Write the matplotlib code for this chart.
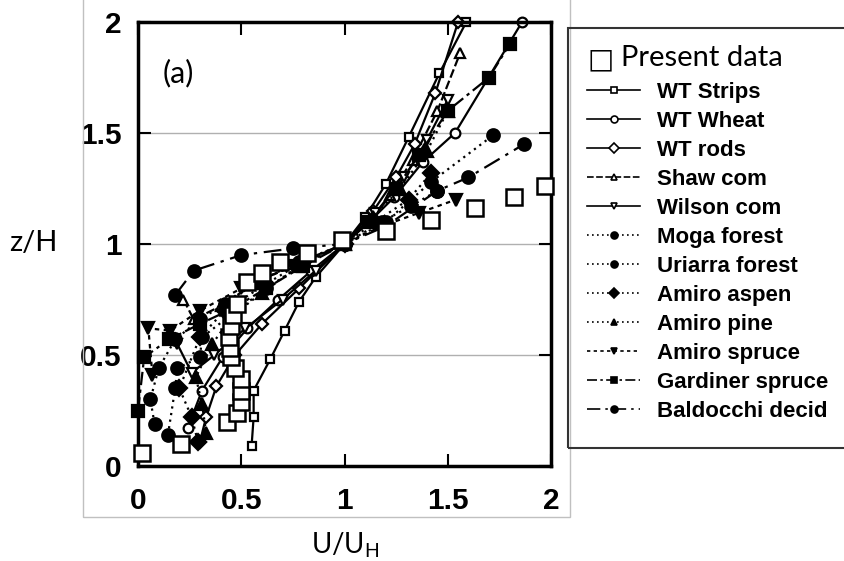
import matplotlib
matplotlib.use("Agg")
import matplotlib.pyplot as plt
from matplotlib.patches import Rectangle
from matplotlib.lines import Line2D

# Present data (open squares, no line)
present_u = [0.02, 0.21, 0.43, 0.48, 0.50, 0.50, 0.50, 0.47, 0.45, 0.445, 0.44, 0.45,
             0.46, 0.48, 0.53, 0.60, 0.69, 0.82, 0.99, 1.20, 1.42, 1.63, 1.82, 1.97]
present_z = [0.06, 0.10, 0.20, 0.24, 0.29, 0.34, 0.39, 0.44, 0.49, 0.53, 0.58, 0.63,
             0.68, 0.73, 0.83, 0.87, 0.92, 0.96, 1.02, 1.06, 1.11, 1.16, 1.21, 1.26]

# literature profiles
strips_u = [0.55, 0.56, 0.56, 0.64, 0.71, 0.78, 0.86, 1.00, 1.10, 1.20, 1.31, 1.46, 1.59]
strips_z = [0.09, 0.22, 0.34, 0.48, 0.61, 0.74, 0.85, 1.00, 1.12, 1.27, 1.48, 1.77, 2.00]
wheat_u = [0.24, 0.31, 0.41, 0.53, 0.68, 0.84, 1.00, 1.12, 1.24, 1.38, 1.535, 1.86]
wheat_z = [0.17, 0.34, 0.49, 0.62, 0.75, 0.88, 1.00, 1.10, 1.21, 1.37, 1.50, 2.00]
rods_u = [0.30, 0.33, 0.38, 0.47, 0.60, 0.78, 1.00, 1.14, 1.25, 1.34, 1.44, 1.55]
rods_z = [0.11, 0.22, 0.36, 0.50, 0.64, 0.80, 1.00, 1.15, 1.30, 1.45, 1.68, 2.00]
shaw_u = [0.22, 0.27, 0.40, 0.56, 0.76, 1.00, 1.12, 1.22, 1.33, 1.45, 1.56]
shaw_z = [0.75, 0.66, 0.72, 0.82, 0.91, 1.00, 1.10, 1.22, 1.38, 1.60, 1.86]
wilson_u = [0.19, 0.26, 0.37, 0.52, 0.70, 0.86, 1.00, 1.15, 1.29, 1.40, 1.50]
wilson_z = [0.55, 0.42, 0.50, 0.62, 0.75, 0.88, 1.00, 1.14, 1.30, 1.47, 1.65]
moga_u = [0.08, 0.06, 0.10, 0.18, 0.30, 0.42, 0.58, 0.78, 1.00, 1.20, 1.42, 1.72]
moga_z = [0.19, 0.30, 0.44, 0.57, 0.66, 0.73, 0.83, 0.92, 1.00, 1.10, 1.28, 1.49]
uriarra_u = [0.145, 0.18, 0.19, 0.30, 0.31, 0.45, 0.62, 0.80, 1.00, 1.18, 1.32, 1.45]
uriarra_z = [0.14, 0.35, 0.44, 0.49, 0.58, 0.68, 0.80, 0.91, 1.00, 1.10, 1.17, 1.24]
aspen_u = [0.29, 0.26, 0.20, 0.30, 0.42, 0.47, 0.62, 0.80, 1.00, 1.15, 1.31, 1.42]
aspen_z = [0.11, 0.22, 0.35, 0.58, 0.70, 0.73, 0.82, 0.92, 1.00, 1.10, 1.20, 1.32]
pine_u = [0.33, 0.31, 0.28, 0.36, 0.46, 0.60, 0.78, 1.00, 1.14, 1.27, 1.40, 1.50]
pine_z = [0.15, 0.28, 0.40, 0.55, 0.68, 0.78, 0.90, 1.00, 1.12, 1.25, 1.42, 1.60]
spruce_u = [0.07, 0.05, 0.155, 0.30, 0.50, 0.75, 1.00, 1.18, 1.36, 1.54]
spruce_z = [0.41, 0.62, 0.61, 0.70, 0.80, 0.90, 1.00, 1.08, 1.14, 1.20]
gardiner_u = [0.00, 0.03, 0.15, 0.30, 0.46, 0.62, 0.80, 1.00, 1.12, 1.25, 1.36, 1.50, 1.70, 1.80]
gardiner_z = [0.25, 0.49, 0.57, 0.64, 0.71, 0.80, 0.90, 1.00, 1.10, 1.25, 1.40, 1.60, 1.75, 1.90]
baldocchi_u = [0.18, 0.27, 0.50, 0.75, 1.00, 1.20, 1.45, 1.60, 1.87]
baldocchi_z = [0.77, 0.88, 0.95, 0.98, 1.00, 1.08, 1.24, 1.30, 1.45]

labels = ['WT Strips', 'WT Wheat', 'WT rods', 'Shaw com', 'Wilson com', 'Moga forest',
          'Uriarra forest', 'Amiro aspen', 'Amiro pine', 'Amiro spruce',
          'Gardiner spruce', 'Baldocchi decid']

DOT = (0, (1, 2))
DASHDOT = (0, (6, 2, 1.5, 2))
LONGDASH = (0, (8, 3, 1.5, 3))

# (u, z, marker, filled, linestyle, markersize)
profiles = [
    (strips_u, strips_z, 's', False, '-', 6),
    (wheat_u, wheat_z, 'o', False, '-', 7),
    (rods_u, rods_z, 'D', False, '-', 6),
    (shaw_u, shaw_z, '^', False, (0, (4, 1.5)), 7),
    (wilson_u, wilson_z, 'v', False, '-', 7),
    (moga_u, moga_z, 'o', True, DOT, 9),
    (uriarra_u, uriarra_z, 'o', True, DOT, 9),
    (aspen_u, aspen_z, 'D', True, DOT, 8),
    (pine_u, pine_z, '^', True, DOT, 9),
    (spruce_u, spruce_z, 'v', True, (0, (2, 2)), 9),
    (gardiner_u, gardiner_z, 's', True, DASHDOT, 8),
    (baldocchi_u, baldocchi_z, 'o', True, LONGDASH, 9),
]

plt.rcParams['mathtext.fontset'] = 'custom'
plt.rcParams['mathtext.rm'] = 'Lato'

fig = plt.figure(figsize=(8.44, 5.61), dpi=100)
ax = fig.add_axes([138 / 844, 95 / 561, 413 / 844, 444 / 561])

leg_handles = []
for (u, z, mk, filled, ls, ms), lab in zip(profiles, labels):
    fc = 'black' if filled else 'white'
    ax.plot(u, z, color='black', linestyle=ls, linewidth=1.6, marker=mk,
            markersize=ms, markerfacecolor=fc, markeredgecolor='black',
            markeredgewidth=1.6, clip_on=False)
    leg_handles.append(Line2D([], [], color='black', linestyle=ls, linewidth=1.2,
                              marker=mk, markersize=5, markerfacecolor=fc,
                              markeredgecolor='black', markeredgewidth=1.2))

ax.plot(present_u, present_z, linestyle='none', marker='s', markersize=12,
        markerfacecolor='white', markeredgecolor='black', markeredgewidth=1.8,
        zorder=5, clip_on=False)

ax.set_xlim(0, 2)
ax.set_ylim(0, 2)
ticks = [0, 0.5, 1, 1.5, 2]
ticklabels = ['0', '0.5', '1', '1.5', '2']
ax.set_xticks(ticks)
ax.set_xticklabels(ticklabels)
ax.set_yticks(ticks)
ax.set_yticklabels(ticklabels)
ax.tick_params(direction='in', length=9, width=1.5, top=True, right=True, labelsize=21.5)
ax.tick_params(axis='x', pad=15)
ax.tick_params(axis='y', pad=12)
for lab in ax.get_xticklabels() + ax.get_yticklabels():
    lab.set_fontfamily('Liberation Sans')
    lab.set_fontweight('bold')
for sp in ax.spines.values():
    sp.set_linewidth(2.5)
for gy in [0.5, 1.0, 1.5]:
    ax.axhline(gy, color='#b0b0b0', linewidth=1, zorder=0)

ax.text(0.12, 1.77, '(a)', fontsize=22, family='Lato', va='center')

# grey frame of the scanned panel
fig.add_artist(Rectangle((83 / 844, 44 / 561), 487 / 844, 0.99, transform=fig.transFigure,
                         fill=False, edgecolor='#c0c0c0', linewidth=1))

fig.text(33 / 844, 1 - 243 / 561, 'z/H', fontsize=21, family='Lato', ha='center', va='center')
fig.text(345 / 844, 1 - 545 / 561, r'U/U$_{\mathrm{H}}$', fontsize=20, family='Lato',
         ha='center', va='center')

# legend box
fig.add_artist(Rectangle((568 / 844, 113 / 561), 300 / 844, 420 / 561, transform=fig.transFigure,
                         fill=False, edgecolor='#333333', linewidth=1.5))
fig.text(588 / 844, 1 - 59 / 561, '\u25a1', fontsize=20, family='DejaVu Sans', va='center')
fig.text(621 / 844, 1 - 58 / 561, 'Present data', fontsize=21, family='Lato', va='center')

fig.legend(leg_handles, labels, loc='upper left', bbox_to_anchor=(578 / 844, 1 - 73 / 561),
           frameon=False, prop={'family': 'Liberation Sans', 'size': 16, 'weight': 'bold'},
           handlelength=2.4, handletextpad=0.75, labelspacing=0.36, borderaxespad=0)

fig.savefig('out.png', dpi=100)
